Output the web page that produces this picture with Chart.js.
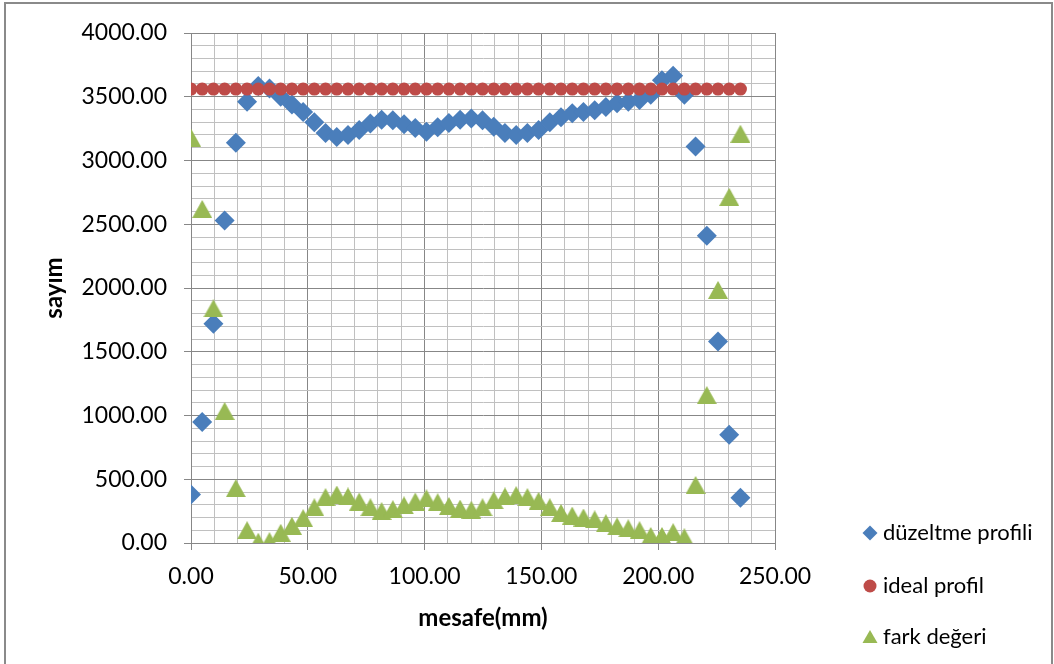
<!DOCTYPE html>
<html>
<head>
<meta charset="utf-8">
<title>Profil</title>
<script src="https://cdn.jsdelivr.net/npm/chart.js"></script>
<style>
  html, body { margin: 0; padding: 0; background: #fff; }
</style>
</head>
<body>

<canvas id="profileChart" width="1054" height="664"></canvas>

<script>
    // x values (mm) shared by all three series
    const mesafe = [0, 4.8, 9.6, 14.4, 19.2, 24, 28.8, 33.6, 38.4, 43.2,
        48, 52.8, 57.6, 62.4, 67.2, 72, 76.8, 81.6, 86.4, 91.2,
        96, 100.8, 105.6, 110.4, 115.2, 120, 124.8, 129.6, 134.4, 139.2,
        144, 148.8, 153.6, 158.4, 163.2, 168, 172.8, 177.6, 182.4, 187.2,
        192, 196.8, 201.6, 206.4, 211.2, 216, 220.8, 225.6, 230.4, 235.2];

    const duzeltme = [380, 950, 1720, 2530, 3140, 3460, 3585, 3565, 3500, 3440,
        3380, 3300, 3215, 3185, 3200, 3240, 3290, 3320, 3315, 3285,
        3255, 3225, 3260, 3295, 3320, 3330, 3315, 3265, 3215, 3200,
        3215, 3240, 3300, 3340, 3370, 3380, 3395, 3420, 3450, 3460,
        3475, 3515, 3630, 3665, 3515, 3110, 2410, 1580, 850, 355];

    const ideal = [3560, 3560, 3560, 3560, 3560, 3560, 3560, 3560, 3560, 3560,
        3560, 3560, 3560, 3560, 3560, 3560, 3560, 3560, 3560, 3560,
        3560, 3560, 3560, 3560, 3560, 3560, 3560, 3560, 3560, 3560,
        3560, 3560, 3560, 3560, 3560, 3560, 3560, 3560, 3560, 3560,
        3560, 3560, 3560, 3560, 3560, 3560, 3560, 3560, 3560, 3560];

    const fark = [3180, 2620, 1840, 1035, 430, 100, 10, 15, 80, 135,
        195, 280, 360, 380, 365, 325, 280, 250, 265, 295,
        325, 350, 320, 290, 270, 260, 280, 335, 365, 375,
        360, 330, 280, 235, 215, 200, 185, 155, 130, 115,
        100, 55, 55, 85, 45, 455, 1160, 1985, 2715, 3210];

    const seriesNames = ['düzeltme profili', 'ideal profil', 'fark değeri'];

    const BLUE = '#4a7ebb', RED = '#be4b48', GREEN = '#98b954';
    const MAJOR = '#878787', MINOR = '#c0c0c0';
    const FONT = 'Lato';

    function toPoints(xs, ys) {
        return xs.map((x, i) => ({ x: x, y: ys[i] }));
    }

    // excel style triangle, centred on its bounding box
    function triangleImage(w, h, color) {
        const c = document.createElement('canvas');
        c.width = w; c.height = h;
        const g = c.getContext('2d');
        g.fillStyle = color;
        g.beginPath();
        g.moveTo(w / 2, 0);
        g.lineTo(w, h);
        g.lineTo(0, h);
        g.closePath();
        g.fill();
        return c;
    }

    const frame = {
        id: 'frame',
        beforeDraw(chart) {
            const c = chart.ctx;
            c.save();
            c.fillStyle = '#fff';
            c.fillRect(0, 0, chart.width, chart.height);
            c.strokeStyle = '#8a8a8a';
            c.lineWidth = 2;
            c.strokeRect(5, 3, 1047, 700);
            c.restore();
        }
    };

    // legend drawn by hand so the plot area keeps Excel's size
    const sideLegend = {
        id: 'sideLegend',
        afterDraw(chart) {
            const c = chart.ctx;
            const ys = [533, 586, 637];
            const mx = 870;
            c.save();
            c.font = '22px ' + FONT;
            c.textBaseline = 'middle';
            c.fillStyle = '#000';
            chart.data.datasets.forEach((ds, i) => {
                const y = ys[i];
                c.fillStyle = ds.backgroundColor;
                c.beginPath();
                if (i === 0) {
                    c.moveTo(mx, y - 7.5); c.lineTo(mx + 7.5, y);
                    c.lineTo(mx, y + 7.5); c.lineTo(mx - 7.5, y);
                } else if (i === 1) {
                    c.arc(mx, y, 6.5, 0, Math.PI * 2);
                } else {
                    c.moveTo(mx, y - 7); c.lineTo(mx + 7.5, y + 6);
                    c.lineTo(mx - 7.5, y + 6);
                }
                c.closePath();
                c.fill();
                c.fillStyle = '#000';
                c.fillText(ds.label, 883, y);
            });
            c.restore();
        }
    };

    const ctx = document.getElementById('profileChart').getContext('2d');
    const profileChart = new Chart(ctx, {
        type: 'scatter',
        data: {
            datasets: [
                {
                    label: seriesNames[0],
                    data: toPoints(mesafe, duzeltme),
                    pointStyle: 'rectRot',
                    pointRadius: 10,
                    backgroundColor: BLUE,
                    borderColor: BLUE,
                    borderWidth: 0,
                    order: 3
                },
                {
                    label: seriesNames[1],
                    data: toPoints(mesafe, ideal),
                    pointStyle: 'circle',
                    pointRadius: 6.5,
                    backgroundColor: RED,
                    borderColor: RED,
                    borderWidth: 0,
                    order: 2
                },
                {
                    label: seriesNames[2],
                    data: toPoints(mesafe, fark),
                    pointStyle: triangleImage(20, 18, GREEN),
                    pointRadius: 10,
                    backgroundColor: GREEN,
                    borderColor: GREEN,
                    borderWidth: 0,
                    order: 1
                }
            ]
        },
        options: {
            responsive: false,
            animation: false,
            layout: { padding: { top: 33, right: 279, bottom: 0, left: 0 } },
            plugins: {
                legend: { display: false },
                tooltip: { enabled: false }
            },
            scales: {
                x: {
                    type: 'linear',
                    position: 'bottom',
                    min: 0,
                    max: 250,
                    afterFit(scale) { scale.height = 121; },
                    ticks: {
                        stepSize: 10,
                        autoSkip: false,
                        maxRotation: 0,
                        padding: 13,
                        color: '#000',
                        font: { family: FONT, size: 23 },
                        callback: v => v % 50 === 0 ? v.toFixed(2) : ''
                    },
                    grid: {
                        color: c => c.tick && c.tick.value % 50 === 0 ? MAJOR : MINOR,
                        tickColor: c => c.tick && c.tick.value % 50 === 0 ? MAJOR : 'rgba(0,0,0,0)',
                        tickLength: 7,
                        lineWidth: 1
                    },
                    border: { color: MAJOR, width: 1 },
                    title: {
                        display: true,
                        text: 'mesafe(mm)',
                        color: '#000',
                        font: { family: FONT, size: 24, weight: 'bold' },
                        padding: { top: 0, bottom: 31 }
                    }
                },
                y: {
                    type: 'linear',
                    min: 0,
                    max: 4000,
                    afterFit(scale) { scale.width = 191; },
                    ticks: {
                        stepSize: 100,
                        autoSkip: false,
                        padding: 17,
                        color: '#000',
                        font: { family: FONT, size: 23 },
                        callback: v => v % 500 === 0 ? v.toFixed(2) : ''
                    },
                    grid: {
                        color: c => c.tick && c.tick.value % 500 === 0 ? MAJOR : MINOR,
                        tickColor: c => c.tick && c.tick.value % 500 === 0 ? MAJOR : 'rgba(0,0,0,0)',
                        tickLength: 7,
                        lineWidth: 1
                    },
                    border: { color: MAJOR, width: 1 },
                    title: {
                        display: true,
                        text: 'sayım',
                        color: '#000',
                        font: { family: FONT, size: 24, weight: 'bold' },
                        padding: { top: 40, bottom: 0 }
                    }
                }
            }
        },
        plugins: [frame, sideLegend]
    });
</script>

</body>
</html>
